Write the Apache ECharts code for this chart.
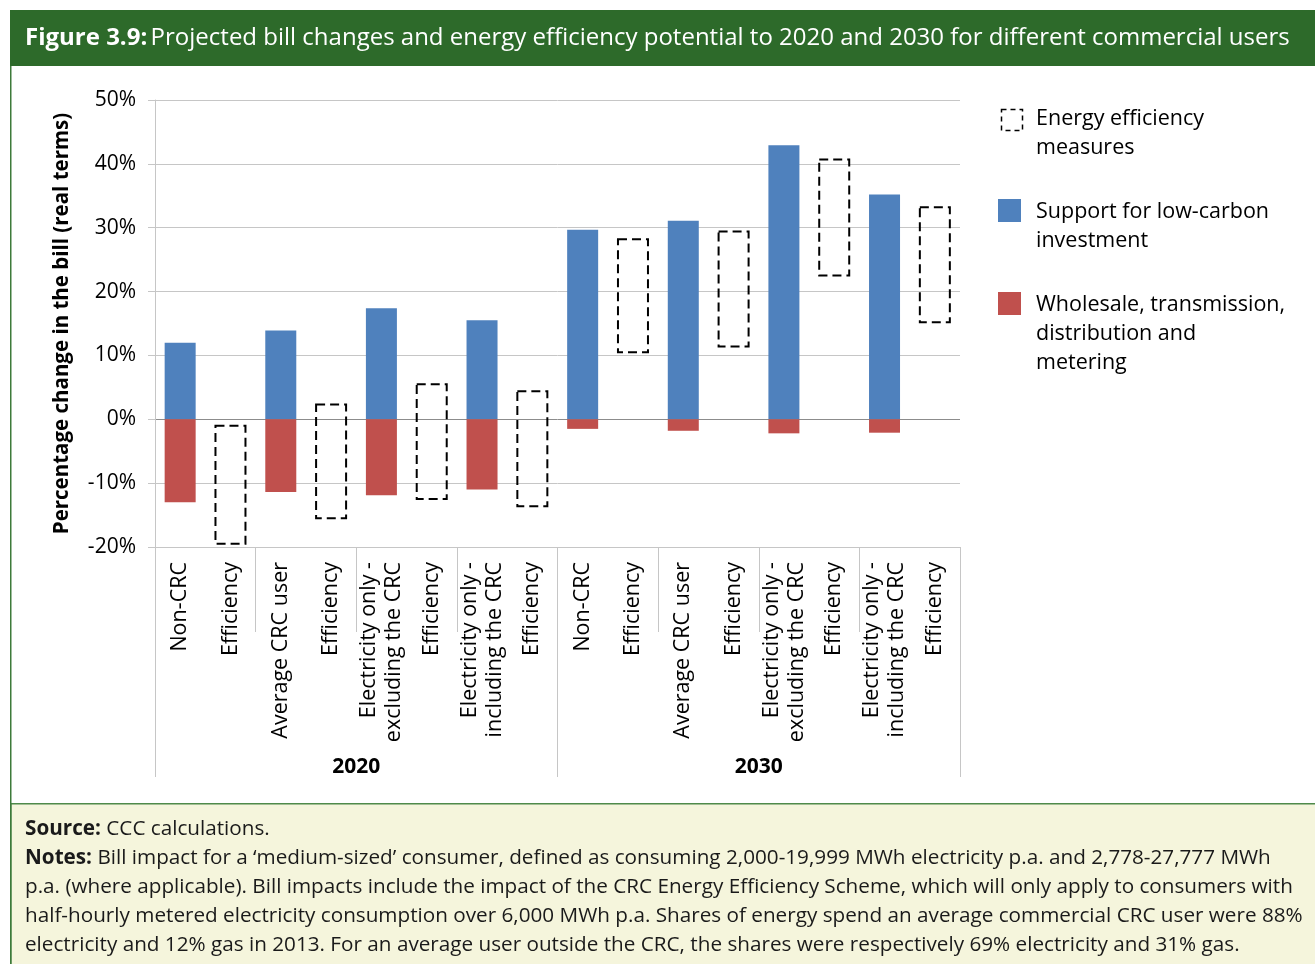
<!DOCTYPE html>
<html>
<head>
<meta charset="utf-8">
<script src="https://cdn.jsdelivr.net/npm/echarts@6/dist/echarts.min.js"></script>
<style>
  html, body { margin: 0; padding: 0; background: #fff; }
  #chart { width: 1315px; height: 964px; }
</style>
</head>
<body>
<div id="chart"></div>
<script>
var FONT = '"Open Sans", "Noto Sans", sans-serif';

var categories = [
  'Non-CRC', 'Efficiency', 'Average CRC user', 'Efficiency',
  'Electricity only -\nexcluding the CRC', 'Efficiency',
  'Electricity only -\nincluding the CRC', 'Efficiency',
  'Non-CRC', 'Efficiency', 'Average CRC user', 'Efficiency',
  'Electricity only -\nexcluding the CRC', 'Efficiency',
  'Electricity only -\nincluding the CRC', 'Efficiency'
];
var years = ['2020', '2030'];

// % change in the bill, by component
var lowCarbon = [12.0, null, 13.9, null, 17.4, null, 15.5, null, 29.7, null, 31.1, null, 42.9, null, 35.2, null];
var wholesale = [-13.0, null, -11.4, null, -11.9, null, -11.0, null, -1.5, null, -1.8, null, -2.2, null, -2.1, null];

// energy efficiency measures: range of the dashed box (top, bottom)
var effIndex  = [1, 3, 5, 7, 9, 11, 13, 15];
var effTop    = [-1.0, 2.3, 5.5, 4.4, 28.2, 29.4, 40.7, 33.2];
var effBottom = [-19.5, -15.5, -12.5, -13.6, 10.5, 11.4, 22.5, 15.2];

var yTicks = [-20, -10, 0, 10, 20, 30, 40, 50];

var effData = effIndex.map(function (c, i) { return [c, effTop[i], effBottom[i]]; });

var chart = echarts.init(document.getElementById('chart'));

var gridCol = '#c6c6c6';
var splitColors = yTicks.map(function (v) { return v === 0 ? '#8c8c8c' : gridCol; });

option = {
  animation: false,
  textStyle: { fontFamily: FONT },
  grid: { left: 155, right: 355, top: 100, bottom: 417 },
  xAxis: [
    {
      type: 'category',
      data: categories,
      axisLine: { show: true, onZero: false, lineStyle: { color: gridCol } },
      axisTick: {
        show: true, length: 85, lineStyle: { color: gridCol },
        interval: function (index) { return index % 2 === 0; }
      },
      axisLabel: {
        interval: 0, rotate: 90, margin: 15,
        color: '#000', fontSize: 21.5, lineHeight: 25, fontFamily: FONT
      }
    },
    {
      type: 'category',
      position: 'bottom',
      data: years,
      axisLine: { show: true, onZero: false, lineStyle: { color: gridCol } },
      axisTick: { show: true, length: 230, lineStyle: { color: gridCol } },
      axisLabel: { margin: 210, color: '#000', fontSize: 21, fontWeight: 'bold', fontFamily: FONT }
    }
  ],
  yAxis: {
    type: 'value',
    min: -20, max: 50, interval: 10,
    name: 'Percentage change in the bill (real terms)',
    nameLocation: 'middle',
    nameGap: 82,
    nameTextStyle: { color: '#000', fontSize: 20.5, fontWeight: 'bold', fontFamily: FONT },
    axisLine: { show: true, lineStyle: { color: gridCol } },
    axisTick: { show: true, length: 7, lineStyle: { color: gridCol } },
    axisLabel: { formatter: '{value}%', color: '#000', fontSize: 21, margin: 19, fontFamily: FONT },
    splitLine: { show: true, lineStyle: { color: splitColors } }
  },
  series: [
    {
      name: 'Support for low-carbon investment',
      type: 'bar', stack: 'bill', barWidth: 31,
      itemStyle: { color: '#4f81bd' },
      data: lowCarbon
    },
    {
      name: 'Wholesale, transmission, distribution and metering',
      type: 'bar', stack: 'bill', barWidth: 31,
      itemStyle: { color: '#c0504d' },
      data: wholesale
    },
    {
      name: 'Energy efficiency measures',
      type: 'custom',
      data: effData,
      encode: { x: 0, y: [1, 2] },
      renderItem: function (params, api) {
        var top = api.coord([api.value(0), api.value(1)]);
        var bot = api.coord([api.value(0), api.value(2)]);
        var w = 30;
        return {
          type: 'rect',
          shape: { x: top[0] - w / 2, y: top[1], width: w, height: bot[1] - top[1] },
          style: { fill: 'none', stroke: '#000', lineWidth: 2, lineDash: [9, 5] }
        };
      }
    }
  ],
  graphic: [
    // title bar
    { type: 'rect', left: 10, top: 10, shape: { width: 1305, height: 56 }, style: { fill: '#2d6a2a' }, z: -1 },
    { type: 'text', left: 25, top: 26, style: {
        rich: {
          b: { fontSize: 24, fontWeight: 'bold', fill: '#fff', fontFamily: FONT },
          n: { fontSize: 24, fill: '#fff', fontFamily: FONT }
        },
        text: '{b|Figure 3.9:} {n|Projected bill changes and energy efficiency potential to 2020 and 2030 for different commercial users}'
    } },
    // frame
    { type: 'rect', left: 10, top: 66, shape: { width: 1.5, height: 898 }, style: { fill: '#3d7a3a' } },
    // footer
    { type: 'rect', left: 10, top: 803, shape: { width: 1305, height: 161 }, style: { fill: '#f5f5dc', stroke: '#4f8a4a', lineWidth: 1.5 }, z: -1 },
    { type: 'text', left: 25, top: 815, style: {
        lineHeight: 29,
        rich: {
          b: { fontSize: 20.7, fontWeight: 'bold', fill: '#1a1a1a', fontFamily: FONT, lineHeight: 29 },
          n: { fontSize: 20.7, fill: '#1a1a1a', fontFamily: FONT, lineHeight: 29 }
        },
        text: '{b|Source:}{n| CCC calculations.}\n' +
              '{b|Notes:}{n| Bill impact for a \u2018medium-sized\u2019 consumer, defined as consuming 2,000-19,999 MWh electricity p.a. and 2,778-27,777 MWh}\n' +
              '{n|p.a. (where applicable). Bill impacts include the impact of the CRC Energy Efficiency Scheme, which will only apply to consumers with}\n' +
              '{n|half-hourly metered electricity consumption over 6,000 MWh p.a. Shares of energy spend an average commercial CRC user were 88%}\n' +
              '{n|electricity and 12% gas in 2013. For an average user outside the CRC, the shares were respectively 69% electricity and 31% gas.}'
    } },
    // legend
    { type: 'rect', left: 999, top: 107, shape: { width: 21, height: 21 }, style: { fill: 'none', stroke: '#000', lineWidth: 1.5, lineDash: [5, 4] } },
    { type: 'text', left: 1036, top: 104, style: { text: 'Energy efficiency\nmeasures', fontSize: 21.5, lineHeight: 29, fill: '#000', fontFamily: FONT } },
    { type: 'rect', left: 998, top: 199, shape: { width: 23, height: 23 }, style: { fill: '#4f81bd' } },
    { type: 'text', left: 1036, top: 197, style: { text: 'Support for low-carbon\ninvestment', fontSize: 21.5, lineHeight: 29, fill: '#000', fontFamily: FONT } },
    { type: 'rect', left: 998, top: 292, shape: { width: 23, height: 23 }, style: { fill: '#c0504d' } },
    { type: 'text', left: 1036, top: 290, style: { text: 'Wholesale, transmission,\ndistribution and\nmetering', fontSize: 21.5, lineHeight: 29, fill: '#000', fontFamily: FONT } }
  ]
};

chart.setOption(option);
</script>
</body>
</html>
